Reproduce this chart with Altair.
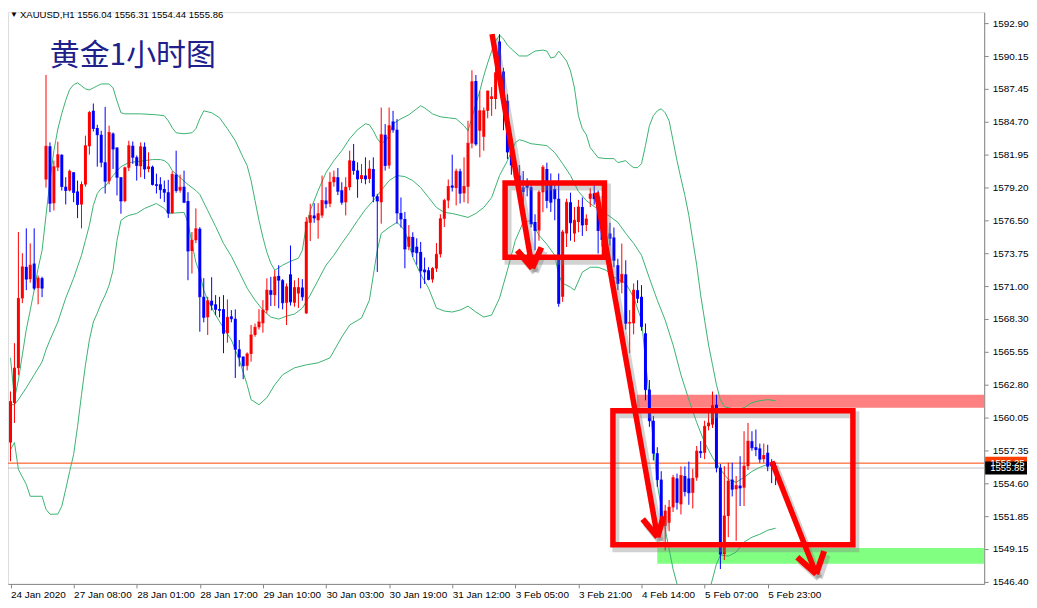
import json
import numpy as np
import pandas as pd
import altair as alt

# ---------------- data ----------------
OPEN = [1557.99, 1561.28, 1564.19, 1570.00, 1572.62, 1571.60, 1572.90, 1570.85, 1571.68,
        1579.90, 1582.66, 1577.93, 1580.89, 1581.97, 1579.30, 1578.98, 1580.50, 1578.90, 1577.82,
        1579.48, 1582.66, 1585.62, 1584.20, 1583.63, 1581.33, 1579.75, 1583.74, 1582.57, 1580.09,
        1578.10, 1580.87, 1582.72, 1581.75, 1581.00, 1582.63, 1580.78, 1580.97, 1579.50, 1579.50,
        1579.10, 1578.84, 1577.10, 1580.31, 1578.98, 1579.30, 1578.10, 1573.95, 1574.83, 1575.80,
        1570.13, 1568.42, 1569.80, 1569.50, 1569.10, 1569.10, 1567.09, 1568.50, 1568.30, 1565.76,
        1565.15, 1564.38, 1565.37, 1566.95, 1567.59, 1567.92, 1569.00, 1570.68, 1570.27, 1571.87,
        1571.51, 1569.63, 1572.00, 1569.63, 1570.40, 1570.90, 1568.75, 1576.30, 1576.90, 1576.50,
        1576.90, 1578.15, 1577.88, 1579.67, 1580.09, 1579.00, 1578.01, 1579.26, 1581.47, 1580.64,
        1579.95, 1580.23, 1579.95, 1580.78, 1578.51, 1578.01, 1583.63, 1581.06, 1584.73, 1584.05,
        1577.10, 1576.60, 1574.30, 1575.11, 1574.30, 1573.86, 1572.40, 1572.34, 1571.57, 1572.48,
        1573.67, 1576.63, 1578.15, 1579.40, 1579.20, 1580.58, 1578.76, 1579.30, 1582.90, 1588.10,
        1583.96, 1583.46, 1585.62, 1586.60, 1586.60, 1591.40, 1588.90, 1586.45, 1582.20, 1580.92,
        1580.23, 1579.26, 1579.50, 1579.26, 1576.35, 1575.66, 1578.84, 1580.78, 1579.50, 1579.10,
        1578.29, 1570.13, 1575.40, 1578.00, 1575.40, 1576.35, 1577.60, 1576.10, 1578.30, 1578.75,
        1578.30, 1575.66, 1575.20, 1575.40, 1575.06, 1572.76, 1571.30, 1572.00, 1567.90, 1567.92,
        1570.68, 1570.13, 1567.09, 1562.40, 1559.80, 1557.10, 1554.90, 1551.04, 1551.30, 1552.59,
        1555.00, 1552.84, 1555.20, 1555.00, 1553.80, 1555.06, 1557.27, 1557.13, 1559.34, 1559.48,
        1561.14, 1555.89, 1548.69, 1551.87, 1554.90, 1554.10, 1554.40, 1554.23, 1556.02, 1558.10,
        1557.60, 1557.50, 1556.60, 1557.13, 1556.30, 1556.04]

HIGH = [1562.24, 1566.26, 1575.52, 1573.76, 1575.83, 1574.58, 1575.83, 1571.90, 1571.80,
        1588.61, 1582.99, 1581.47, 1583.05, 1582.00, 1580.09, 1580.73, 1580.50, 1579.81, 1579.73,
        1583.55, 1585.62, 1586.23, 1584.46, 1583.96, 1585.95, 1584.38, 1583.82, 1582.57, 1580.09,
        1580.97, 1583.13, 1583.07, 1581.90, 1582.99, 1582.99, 1582.16, 1581.06, 1580.39, 1580.09,
        1579.81, 1579.87, 1580.58, 1582.30, 1580.30, 1580.64, 1578.84, 1575.52, 1577.49, 1575.93,
        1571.68, 1570.13, 1571.76, 1570.27, 1570.13, 1570.27, 1569.91, 1569.02, 1569.08, 1566.53,
        1565.15, 1565.50, 1567.78, 1567.90, 1569.10, 1569.85, 1571.66, 1571.79, 1572.34, 1572.76,
        1571.60, 1571.24, 1574.40, 1571.50, 1571.70, 1571.60, 1576.77, 1577.88, 1577.93, 1577.93,
        1580.23, 1579.26, 1580.50, 1580.64, 1580.86, 1579.67, 1580.09, 1582.30, 1582.86, 1581.33,
        1581.20, 1581.75, 1581.50, 1581.75, 1578.70, 1585.89, 1584.52, 1585.89, 1585.62, 1584.93,
        1578.40, 1577.20, 1576.10, 1575.50, 1575.00, 1574.70, 1573.40, 1572.60, 1572.60, 1574.60,
        1577.00, 1578.30, 1579.90, 1581.97, 1580.80, 1580.80, 1581.75, 1584.79, 1589.00, 1588.60,
        1587.28, 1585.90, 1587.30, 1587.60, 1589.36, 1592.00, 1589.20, 1587.00, 1582.80, 1581.50,
        1581.10, 1580.60, 1580.00, 1579.80, 1577.00, 1579.00, 1581.10, 1581.30, 1580.40, 1579.80,
        1580.40, 1575.70, 1578.30, 1578.80, 1577.60, 1578.20, 1578.40, 1577.00, 1579.20, 1579.54,
        1578.98, 1576.20, 1575.60, 1576.30, 1575.90, 1573.30, 1574.56, 1573.17, 1569.02, 1571.24,
        1571.51, 1571.10, 1567.90, 1563.20, 1560.20, 1557.60, 1555.60, 1552.80, 1553.20, 1555.30,
        1555.40, 1556.00, 1556.00, 1556.40, 1555.80, 1557.70, 1558.10, 1559.80, 1560.50, 1562.24,
        1561.97, 1556.20, 1556.02, 1556.30, 1556.30, 1555.20, 1556.85, 1558.93, 1559.62, 1558.93,
        1559.07, 1557.90, 1557.90, 1557.80, 1556.60, 1556.31]

LOW = [1556.43, 1559.62, 1563.60, 1569.60, 1570.68, 1571.30, 1570.70, 1569.50, 1570.10,
       1579.23, 1577.18, 1577.32, 1580.60, 1578.98, 1577.82, 1578.90, 1578.01, 1576.68, 1575.83,
       1579.30, 1581.97, 1583.90, 1580.97, 1580.92, 1578.73, 1579.50, 1580.78, 1578.57, 1577.05,
       1578.00, 1580.60, 1581.20, 1579.81, 1580.09, 1579.95, 1580.50, 1579.40, 1578.73, 1578.29,
       1578.01, 1576.70, 1577.05, 1578.80, 1578.80, 1577.93, 1571.51, 1572.07, 1574.60, 1567.22,
       1568.00, 1566.95, 1569.00, 1568.60, 1568.42, 1565.43, 1566.31, 1568.00, 1563.36, 1564.32,
       1563.27, 1564.00, 1564.73, 1566.80, 1567.40, 1567.14, 1568.75, 1569.36, 1569.36, 1569.17,
       1569.08, 1567.78, 1569.40, 1569.30, 1569.20, 1569.80, 1568.70, 1574.78, 1576.30, 1574.97,
       1576.70, 1577.50, 1577.60, 1579.30, 1578.60, 1577.80, 1576.91, 1579.00, 1580.30, 1578.38,
       1579.60, 1579.50, 1579.60, 1578.00, 1572.20, 1576.22, 1580.64, 1580.80, 1583.80, 1576.22,
       1575.90, 1572.50, 1574.00, 1573.45, 1572.80, 1570.83, 1571.20, 1571.50, 1571.30, 1572.20,
       1573.40, 1575.94, 1577.50, 1578.90, 1577.74, 1577.90, 1578.00, 1577.90, 1582.50, 1582.70,
       1581.75, 1582.30, 1585.00, 1585.20, 1585.76, 1588.60, 1584.00, 1581.60, 1580.30, 1579.60,
       1578.80, 1578.00, 1578.50, 1575.90, 1574.00, 1574.80, 1577.18, 1577.50, 1577.20, 1576.50,
       1569.30, 1569.71, 1574.27, 1574.80, 1574.70, 1575.50, 1575.20, 1575.60, 1577.60, 1577.80,
       1573.73, 1574.30, 1573.90, 1574.40, 1572.60, 1570.68, 1570.41, 1567.40, 1565.43, 1567.00,
       1569.60, 1567.30, 1561.50, 1559.30, 1556.50, 1554.30, 1550.60, 1549.00, 1550.60, 1552.20,
       1552.40, 1552.00, 1553.50, 1552.80, 1552.50, 1554.80, 1556.70, 1556.60, 1559.00, 1559.20,
       1555.50, 1547.45, 1548.20, 1550.10, 1553.50, 1549.80, 1552.70, 1552.70, 1555.70, 1557.30,
       1556.85, 1556.30, 1556.30, 1555.60, 1554.60, 1554.44]

CLOSE = [1561.41, 1564.19, 1570.00, 1572.62, 1571.60, 1572.76, 1570.85, 1571.68, 1570.85,
         1582.66, 1577.93, 1580.97, 1581.97, 1579.32, 1578.98, 1580.58, 1578.82, 1577.82, 1579.48,
         1582.72, 1585.48, 1584.15, 1583.63, 1581.33, 1579.75, 1583.82, 1582.44, 1580.09, 1578.10,
         1580.87, 1582.72, 1581.75, 1581.06, 1582.63, 1580.78, 1580.97, 1579.48, 1579.40, 1579.04,
         1578.84, 1577.10, 1580.31, 1578.98, 1579.26, 1578.01, 1573.95, 1574.83, 1575.80, 1570.13,
         1568.42, 1569.80, 1569.44, 1569.08, 1569.00, 1567.09, 1568.42, 1568.30, 1565.76, 1565.10,
         1564.38, 1565.37, 1566.95, 1567.59, 1568.03, 1569.02, 1570.68, 1570.33, 1571.79, 1571.51,
         1569.63, 1570.96, 1569.70, 1570.90, 1570.90, 1570.13, 1576.35, 1576.91, 1576.70, 1577.05,
         1578.15, 1577.88, 1579.67, 1580.09, 1578.92, 1578.01, 1579.26, 1581.47, 1580.64, 1579.95,
         1580.23, 1579.95, 1580.78, 1578.51, 1578.10, 1583.63, 1581.06, 1584.38, 1584.05, 1577.10,
         1576.60, 1574.10, 1575.11, 1573.86, 1573.80, 1572.29, 1572.20, 1571.57, 1572.48, 1573.67,
         1576.63, 1578.15, 1579.32, 1579.26, 1580.58, 1578.76, 1579.32, 1582.91, 1588.05, 1582.86,
         1585.62, 1585.62, 1587.28, 1586.80, 1588.80, 1588.90, 1586.45, 1582.20, 1581.10, 1580.09,
         1579.26, 1578.90, 1579.26, 1576.22, 1575.66, 1578.84, 1580.92, 1578.15, 1578.00, 1578.30,
         1569.58, 1575.52, 1578.01, 1576.30, 1576.50, 1577.60, 1576.10, 1576.60, 1578.70, 1578.30,
         1575.66, 1574.90, 1574.60, 1575.00, 1573.17, 1571.24, 1572.00, 1567.92, 1568.00, 1570.68,
         1570.00, 1567.64, 1562.39, 1559.80, 1557.10, 1554.90, 1551.20, 1552.28, 1552.60, 1555.06,
         1553.00, 1555.24, 1553.90, 1553.80, 1555.00, 1557.27, 1557.13, 1559.34, 1559.62, 1561.06,
         1555.89, 1548.69, 1551.87, 1554.78, 1554.10, 1554.40, 1554.20, 1556.02, 1558.10, 1557.55,
         1557.40, 1556.60, 1556.90, 1556.02, 1556.04, 1555.86]

# Bollinger bands, read at sampled bars: [bar index, price]
BB_UPPER = [[0, 1565.04], [1, 1561.6], [2, 1563.2], [3, 1565.3], [4, 1567.4], [5, 1569.0], [6, 1570.7],
            [7, 1572.5], [8, 1574.0], [9, 1576.9], [10, 1579.8], [11, 1582.3], [12, 1584.1], [13, 1585.4],
            [14, 1586.5], [15, 1587.4], [16, 1587.8], [17, 1587.95], [18, 1587.7], [19, 1587.45],
            [20, 1587.36], [21, 1587.53], [22, 1587.7], [23, 1587.86], [25, 1587.86], [26, 1587.53],
            [27, 1586.45], [28, 1585.46], [29, 1585.37], [33, 1585.37], [37, 1585.29], [39, 1585.21],
            [40, 1584.79], [41, 1584.21], [42, 1583.79], [44, 1583.71], [46, 1583.79], [47, 1584.13],
            [48, 1584.96], [49, 1585.62], [51, 1585.46], [53, 1585.04], [55, 1584.13], [57, 1583.13],
            [59, 1581.72], [60, 1581.06], [61, 1579.81], [62, 1578.15], [63, 1576.49], [64, 1575.08],
            [65, 1573.84], [66, 1572.93], [67, 1572.34], [69, 1572.76], [71, 1573.09], [73, 1573.34],
            [74, 1574.0], [75, 1576.08], [76, 1577.32], [78, 1578.98], [80, 1580.48], [82, 1581.47],
            [84, 1582.30], [86, 1583.30], [88, 1584.05], [90, 1584.54], [91, 1584.46], [92, 1583.96],
            [93, 1583.30], [94, 1582.88], [95, 1583.13], [96, 1583.55], [97, 1584.54], [99, 1584.96],
            [101, 1585.29], [103, 1585.79], [104, 1586.04], [105, 1585.87], [107, 1585.37], [109, 1585.12],
            [111, 1585.04], [113, 1584.96], [115, 1584.38], [116, 1583.96], [117, 1585.04], [118, 1586.20],
            [119, 1587.28], [120, 1588.53], [121, 1589.61], [122, 1590.60], [123, 1591.43], [124, 1591.93],
            [125, 1591.60], [126, 1591.10], [127, 1590.77], [129, 1590.19], [131, 1590.19], [133, 1590.60],
            [135, 1590.68], [136, 1590.60], [137, 1590.02], [138, 1590.10], [139, 1590.60], [140, 1590.19],
            [141, 1589.77], [142, 1588.94], [143, 1587.53], [144, 1585.21], [145, 1584.13], [146, 1583.63],
            [147, 1582.55], [148, 1582.14], [149, 1581.72], [151, 1581.64], [153, 1581.64], [154, 1581.31],
            [156, 1581.47], [157, 1581.14], [158, 1580.89], [159, 1580.89], [160, 1581.22], [161, 1582.72],
            [162, 1584.38], [163, 1585.21], [164, 1585.62], [165, 1585.79], [166, 1585.46], [167, 1584.79],
            [168, 1583.13], [169, 1581.47], [170, 1579.98], [171, 1578.57], [172, 1576.91], [173, 1574.83],
            [174, 1572.76], [175, 1570.27], [176, 1568.19], [177, 1566.12], [178, 1564.46], [179, 1562.80],
            [180, 1561.56], [181, 1560.97], [182, 1560.89], [184, 1560.72], [186, 1560.89], [188, 1561.31],
            [190, 1561.47], [192, 1561.56], [194, 1561.47]]

BB_MIDDLE = [[0, 1561.14], [1, 1561.14], [2, 1561.56], [4, 1562.55], [6, 1563.63], [8, 1564.71], [9, 1565.71],
             [10, 1566.53], [12, 1568.03], [14, 1570.02], [16, 1571.68], [18, 1573.59], [19, 1574.83],
             [20, 1576.08], [21, 1577.74], [22, 1578.73], [23, 1579.15], [24, 1579.32], [26, 1580.23],
             [28, 1580.97], [30, 1581.31], [32, 1581.39], [34, 1581.47], [36, 1581.56], [38, 1581.56],
             [39, 1581.47], [40, 1581.22], [41, 1580.64], [43, 1580.06], [45, 1579.48], [47, 1578.98],
             [48, 1578.65], [50, 1577.32], [52, 1575.99], [54, 1574.58], [56, 1573.50], [58, 1572.18],
             [60, 1570.85], [62, 1569.85], [64, 1569.02], [66, 1568.44], [68, 1568.27], [70, 1568.52],
             [72, 1568.69], [74, 1569.19], [76, 1570.27], [78, 1571.51], [80, 1572.76], [82, 1573.59],
             [84, 1574.58], [86, 1575.50], [88, 1576.49], [90, 1577.41], [92, 1578.15], [94, 1578.98],
             [96, 1579.81], [98, 1580.23], [100, 1580.14], [102, 1579.81], [104, 1579.23], [106, 1578.40],
             [108, 1577.57], [110, 1577.16], [112, 1577.07], [114, 1576.91], [116, 1576.74], [118, 1577.07],
             [120, 1577.57], [122, 1578.40], [124, 1580.23], [126, 1581.47], [128, 1582.97], [129, 1583.21],
             [130, 1583.13], [132, 1582.88], [134, 1582.80], [136, 1582.72], [138, 1582.14], [140, 1581.22],
             [142, 1580.23], [144, 1578.90], [146, 1578.15], [148, 1577.65], [150, 1577.24], [152, 1576.82],
             [154, 1576.33], [156, 1575.41], [158, 1574.58], [160, 1573.59], [162, 1571.68], [164, 1569.85],
             [166, 1568.19], [168, 1566.12], [170, 1563.63], [172, 1561.56], [174, 1559.65], [176, 1557.99],
             [178, 1556.74], [180, 1555.75], [182, 1554.92], [184, 1554.67], [186, 1555.09], [188, 1555.58],
             [190, 1555.92], [192, 1556.17], [194, 1556.09]]

BB_LOWER = [[0, 1557.41], [1, 1557.99], [2, 1555.75], [4, 1554.50], [5, 1553.51], [8, 1553.51], [9, 1552.43],
            [10, 1552.02], [12, 1552.02], [13, 1552.68], [14, 1554.09], [15, 1555.58], [16, 1556.99],
            [17, 1559.32], [18, 1561.97], [19, 1564.46], [20, 1566.53], [21, 1568.03], [22, 1568.77],
            [23, 1569.60], [24, 1570.27], [25, 1571.10], [26, 1572.34], [27, 1574.83], [28, 1576.49],
            [29, 1576.74], [30, 1576.91], [32, 1577.07], [34, 1577.49], [37, 1577.90], [39, 1577.49],
            [40, 1577.07], [44, 1577.16], [45, 1576.33], [46, 1574.58], [47, 1573.01], [48, 1572.09],
            [49, 1570.68], [50, 1569.85], [52, 1568.61], [54, 1567.53], [56, 1566.53], [58, 1564.88],
            [60, 1562.80], [61, 1561.56], [63, 1561.14], [65, 1561.72], [67, 1562.80], [69, 1563.63],
            [72, 1564.21], [75, 1564.46], [78, 1564.63], [81, 1565.04], [84, 1566.78], [86, 1567.78],
            [89, 1568.36], [91, 1569.85], [92, 1571.93], [93, 1574.00], [94, 1575.41], [96, 1575.91],
            [98, 1576.33], [100, 1575.66], [102, 1573.42], [104, 1572.01], [106, 1570.85], [108, 1569.19],
            [110, 1568.94], [112, 1568.86], [114, 1569.02], [116, 1569.35], [118, 1568.86], [120, 1568.44],
            [122, 1568.61], [124, 1570.02], [126, 1572.34], [128, 1574.83], [130, 1576.33], [132, 1576.49],
            [134, 1575.25], [136, 1574.50], [138, 1573.59], [139, 1571.93], [140, 1571.26], [142, 1570.93],
            [143, 1570.68], [145, 1572.18], [147, 1572.59], [149, 1572.59], [151, 1572.34], [153, 1571.76],
            [156, 1571.26], [158, 1570.10], [160, 1568.19], [162, 1561.56], [164, 1554.50], [166, 1550.77],
            [168, 1547.45], [170, 1544.96], [172, 1543.30], [174, 1542.89], [176, 1544.13], [178, 1546.62],
            [179, 1547.86], [180, 1548.61], [182, 1548.53], [184, 1548.86], [186, 1549.69], [188, 1550.10],
            [190, 1550.35], [192, 1550.68], [194, 1550.85]]

PRICE_TICKS = [1592.90, 1590.15, 1587.45, 1584.70, 1581.95, 1579.20, 1576.50, 1573.75, 1571.00,
               1568.30, 1565.55, 1562.80, 1560.05, 1557.35, 1554.60, 1551.85, 1549.15, 1546.40]
TIME_TICK_BARS = [0, 16, 32, 48, 64, 80, 96, 112, 128, 144, 160, 176, 192]
TIME_TICK_LABELS = ["24 Jan 2020", "27 Jan 08:00", "28 Jan 01:00", "28 Jan 17:00", "29 Jan 10:00",
                    "30 Jan 03:00", "30 Jan 19:00", "31 Jan 12:00", "3 Feb 05:00", "3 Feb 21:00",
                    "4 Feb 14:00", "5 Feb 07:00", "5 Feb 23:00"]

BID = 1555.86
ASK = 1556.27
HEADER = "XAUUSD,H1  1556.04 1556.31 1554.44 1555.86"
TITLE_CN = "黄金1小时图"

# zones: [bar from, bar to, price low, price high, colour]
ZONES = [[158.8, 260, 1560.89, 1561.97, "#ff8080"],
         [164.0, 260, 1547.90, 1549.20, "#80ff80"]]
# rectangles drawn on chart: [bar from, bar to, price top, price bottom]
BOXES = [[125.4, 150.6, 1579.60, 1573.42],
         [152.75, 213.6, 1560.64, 1549.48]]
# arrows: start, tip, left barb, right barb (bar, price)
ARROWS = [[(122.1, 1592.01), (132.3, 1572.51), (128.5, 1574.00), (134.6, 1574.25)],
          [(148.55, 1578.82), (164.05, 1550.10), (160.3, 1551.60), (165.6, 1551.85)],
          [(193.05, 1556.41), (204.3, 1547.03), (199.5, 1548.44), (206.3, 1548.94)]]

# ---------------- build tables ----------------
n = len(OPEN)
cd = pd.DataFrame({"i": np.arange(n), "o": OPEN, "h": HIGH, "l": LOW, "c": CLOSE})
cd["hi"] = cd[["h", "o", "c"]].max(axis=1)
cd["lo"] = cd[["l", "o", "c"]].min(axis=1)
cd["dir"] = np.where(cd["c"] >= cd["o"], "up", "down")

bands = pd.concat([
    pd.DataFrame(BB_UPPER, columns=["i", "v"]).assign(band="upper"),
    pd.DataFrame(BB_MIDDLE, columns=["i", "v"]).assign(band="middle"),
    pd.DataFrame(BB_LOWER, columns=["i", "v"]).assign(band="lower"),
])

zones = pd.DataFrame(ZONES, columns=["x0", "x1", "y0", "y1", "col"])
boxes = pd.DataFrame(BOXES, columns=["x0", "x1", "y0", "y1"])
segs = []
for a in ARROWS:
    s, t, lb, rb = a
    segs.append({"x0": s[0], "y0": s[1], "x1": t[0], "y1": t[1], "w": 5.5})
    segs.append({"x0": lb[0], "y0": lb[1], "x1": t[0], "y1": t[1], "w": 6})
    segs.append({"x0": rb[0], "y0": rb[1], "x1": t[0], "y1": t[1], "w": 6})
segs = pd.DataFrame(segs)

W, H = 980, 574
xs = alt.Scale(domain=[0.625, 245.625], nice=False, zero=False)
ys = alt.Scale(domain=[1546.21, 1593.84], nice=False, zero=False)

label_expr = json.dumps(TIME_TICK_LABELS) + "[round(datum.value/16)]"
x_axis = alt.Axis(values=TIME_TICK_BARS, labelExpr=label_expr, orient="bottom", labelAlign="left",
                  labelBaseline="top", labelPadding=2, tickSize=4, labelFlush=False,
                  labelOverlap=False, grid=False, title=None)
y_axis = alt.Axis(values=PRICE_TICKS, format=".2f", orient="right", tickSize=4, labelPadding=4,
                  labelFlush=False, labelOverlap=False, grid=False, title=None)


def X(f):
    return alt.X(f, type="quantitative", scale=xs, axis=x_axis)


def Y(f):
    return alt.Y(f, type="quantitative", scale=ys, axis=y_axis)


color_scale = alt.Scale(domain=["up", "down"], range=["#ff0000", "#0000ff"])

zone_layer = alt.Chart(zones).mark_rect(clip=True).encode(
    x=X("x0"), x2="x1", y=Y("y0"), y2="y1",
    color=alt.Color("col:N", scale=None))

bid_line = alt.Chart(pd.DataFrame({"p": [BID]})).mark_rule(color="#c0c0c0", strokeWidth=1).encode(y=Y("p"))
ask_line = alt.Chart(pd.DataFrame({"p": [ASK]})).mark_rule(color="#ff4500", strokeWidth=1).encode(y=Y("p"))

band_layer = alt.Chart(bands).mark_line(color="#3cb371", strokeWidth=1, clip=True).encode(
    x=X("i"), y=Y("v"), detail="band:N")

wicks = alt.Chart(cd).mark_rule(strokeWidth=1, clip=True).encode(
    x=X("i"), y=Y("lo"), y2="hi", color=alt.Color("dir:N", scale=color_scale, legend=None))
bodies = alt.Chart(cd).mark_bar(size=3, clip=True).encode(
    x=X("i"), y=Y("o"), y2="c", color=alt.Color("dir:N", scale=color_scale, legend=None))
ticks = alt.Chart(cd).mark_tick(size=3, thickness=1, orient="horizontal", clip=True).encode(
    x=X("i"), y=Y("c"), color=alt.Color("dir:N", scale=color_scale, legend=None))

box_shadow = alt.Chart(boxes).mark_rect(filled=False, stroke="#7f7f7f", strokeWidth=7, opacity=0.35,
                                        xOffset=3, x2Offset=3, yOffset=4, y2Offset=4, clip=True).encode(
    x=X("x0"), x2="x1", y=Y("y0"), y2="y1")
box_layer = alt.Chart(boxes).mark_rect(filled=False, stroke="#ff0000", strokeWidth=5.5, clip=True).encode(
    x=X("x0"), x2="x1", y=Y("y0"), y2="y1")

arrow_shadow = alt.Chart(segs).mark_rule(color="#7f7f7f", opacity=0.35, strokeWidth=7,
                                         xOffset=3, x2Offset=3, yOffset=4, y2Offset=4, clip=True).encode(
    x=X("x0"), x2="x1", y=Y("y0"), y2="y1")
arrow_layer = alt.Chart(segs).mark_rule(color="#ff0000", strokeCap="butt", clip=True).encode(
    x=X("x0"), x2="x1", y=Y("y0"), y2="y1", strokeWidth=alt.StrokeWidth("w:Q", scale=None))

one = pd.DataFrame({"a": [0]})
header_tri = alt.Chart(one).mark_text(text="▼", fontSize=8, color="#000000", align="left",
                                      baseline="middle").encode(x=alt.value(2), y=alt.value(3))
header_txt = alt.Chart(one).mark_text(text=HEADER, font="Liberation Sans", fontSize=9.6, color="#000000",
                                      align="left", baseline="middle").encode(x=alt.value(12), y=alt.value(3))
title_txt = alt.Chart(one).mark_text(text=TITLE_CN, font="Noto Sans CJK SC", fontSize=30, fontWeight="normal",
                                     color="#20208c", align="left", baseline="middle").encode(
    x=alt.value(42), y=alt.value(44))

price_tags = pd.DataFrame({"p": [ASK, BID], "t": ["1556.25", "1555.86"], "bg": ["#ff3f00", "#000000"]})
tag_rects = alt.Chart(price_tags).mark_rect(yOffset=-6.5, y2Offset=6.5, clip=False).encode(
    x=alt.value(W + 1), x2=alt.value(W + 43), y=Y("p"), y2="p", color=alt.Color("bg:N", scale=None))
tag_text = alt.Chart(price_tags).mark_text(font="Liberation Sans", fontSize=9.6, color="#ffffff",
                                           align="left", baseline="middle", clip=False).encode(
    x=alt.value(W + 6), y=Y("p"), text="t:N")

chart = alt.layer(
    zone_layer, bid_line, ask_line, band_layer, wicks, bodies, ticks,
    box_shadow, arrow_shadow, box_layer, arrow_layer,
    header_tri, header_txt, title_txt, tag_rects, tag_text,
).properties(
    width=W, height=H,
    autosize=alt.AutoSizeParams(type="none"),
    padding={"left": 0, "top": 3, "right": 45, "bottom": 22},
).configure_view(
    stroke="#000000", strokeWidth=1
).configure_axis(
    labelFont="Liberation Sans", labelFontSize=9.6, labelColor="#000000",
    domainColor="#000000", tickColor="#000000", domainWidth=1, tickWidth=1
).configure(background="#ffffff")

chart.save("out.html", embed_options={"renderer": "svg", "actions": False})
